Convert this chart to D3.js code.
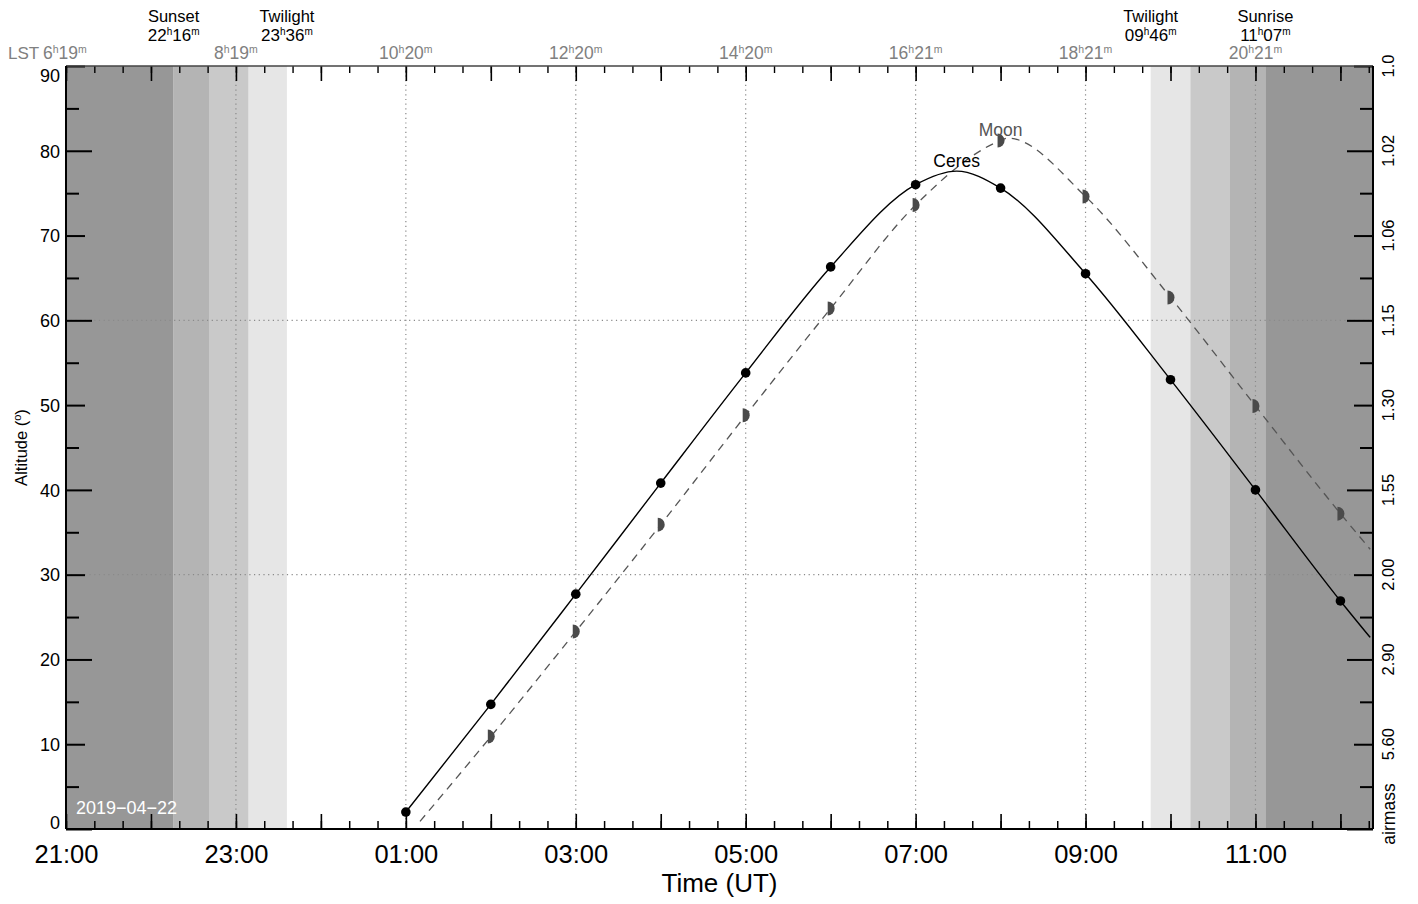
<!DOCTYPE html>
<html>
<head>
<meta charset="utf-8">
<script src="https://cdn.jsdelivr.net/npm/d3@7"></script>
<style>
  html, body { margin: 0; padding: 0; background: #fff; }
  svg { display: block; font-family: "Liberation Sans", Arial, Helvetica, sans-serif; }
</style>
</head>
<body>
<svg id="chart" width="1418" height="904"></svg>
<script>
// ---------------- data ----------------
const dateLabel = "2019\u221204\u221222";
const xDomainTimes = ["21:00", "12:23"];
const labelTimes = ["21:00", "23:00", "01:00", "03:00", "05:00", "07:00", "09:00", "11:00"];
const lstLabels = ["6h19m", "8h19m", "10h20m", "12h20m", "14h20m", "16h21m", "18h21m", "20h21m"];
const gridTimes = ["23:00", "01:00", "03:00", "05:00", "07:00", "09:00", "11:00"];
const gridAltitudes = [30, 60];

const altTicks = [0, 5, 10, 15, 20, 25, 30, 35, 40, 45, 50, 55, 60, 65, 70, 75, 80, 85, 90];
const altLabels = [0, 10, 20, 30, 40, 50, 60, 70, 80, 90];
const airmassAlts = [90, 80, 70, 60, 50, 40, 30, 20, 10];
const airmassLabels = ["1.0", "1.02", "1.06", "1.15", "1.30", "1.55", "2.00", "2.90", "5.60"];

// twilight bands (start, end, shade level 0=darkest..3=lightest)
const bandStarts = ["21:00", "22:16", "22:41", "23:09", "09:46", "10:14", "10:42", "11:07"];
const bandEnds   = ["22:16", "22:41", "23:09", "23:36", "10:14", "10:42", "11:07", "12:23"];
const bandLevels = [0, 1, 2, 3, 3, 2, 1, 0];

const eventNames = ["Sunset", "Twilight", "Twilight", "Sunrise"];
const eventTimes = ["22:16", "23:36", "09:46", "11:07"];

// Ceres hourly markers
const ceresTimes = ["01:00", "02:00", "03:00", "04:00", "05:00", "06:00", "07:00", "08:00", "09:00", "10:00", "11:00", "12:00"];
const ceresAlt   = [2.0, 14.7, 27.7, 40.8, 53.8, 66.3, 76.0, 75.6, 65.5, 53.0, 40.0, 26.9];
// Ceres track
const ceresTrackTimes = ["01:00", "02:00", "03:00", "04:00", "05:00", "06:00", "07:00", "07:29", "08:00", "09:00", "10:00", "11:00", "12:00", "12:21"];
const ceresTrackAlt   = [2.0, 14.7, 27.7, 40.8, 53.8, 66.3, 76.0, 77.6, 75.6, 65.5, 53.0, 40.0, 26.9, 22.6];

// Moon hourly markers
const moonTimes = ["02:00", "03:00", "04:00", "05:00", "06:00", "07:00", "08:00", "09:00", "10:00", "11:00", "12:00"];
const moonAlt   = [10.9, 23.3, 35.9, 48.8, 61.4, 73.6, 81.2, 74.6, 62.7, 49.9, 37.2];
// Moon track
const moonTrackTimes = ["01:10", "02:00", "03:00", "04:00", "05:00", "06:00", "07:00", "08:00", "08:05", "09:00", "10:00", "11:00", "12:00", "12:21"];
const moonTrackAlt   = [0.9, 10.9, 23.3, 35.9, 48.8, 61.4, 73.6, 81.2, 81.5, 74.6, 62.7, 49.9, 37.2, 33.0];
const ceresPeakIndex = 7;
const moonPeakIndex = 8;

// ---------------- styles ----------------
const bandColors = ["#979797", "#b4b4b4", "#c9c9c9", "#e6e6e6"];
const FONT = '"Liberation Sans", Arial, Helvetica, sans-serif';

// ---------------- helpers ----------------
function t(s) {
  const [h, m] = s.split(":").map(Number);
  const day = h >= 18 ? 22 : 23;
  return new Date(Date.UTC(2019, 3, day, h, m));
}

const W = 1418, H = 904;
const L = 66, R = 1373, T = 66, B = 829;

const svg = d3.select("#chart");
svg.append("rect").attr("width", W).attr("height", H).attr("fill", "#fff");

const x = d3.scaleUtc().domain(xDomainTimes.map(t)).range([L, R]);
const y = d3.scaleLinear().domain([0, 90]).range([B, T]);

// bands
svg.append("g").selectAll("rect")
  .data(bandStarts.map((s, i) => ({ s: t(s), e: t(bandEnds[i]), lvl: bandLevels[i] })))
  .join("rect")
  .attr("x", d => x(d.s))
  .attr("width", d => x(d.e) - x(d.s))
  .attr("y", T).attr("height", B - T)
  .attr("fill", d => bandColors[d.lvl]);

// grid
const grid = svg.append("g").attr("stroke", "#8a8a8a").attr("stroke-width", 1.2).attr("stroke-dasharray", "1.2,3.5");
grid.selectAll("line.v").data(gridTimes.map(t)).join("line")
  .attr("x1", d => x(d)).attr("x2", d => x(d)).attr("y1", T).attr("y2", B);
grid.selectAll("line.h").data(gridAltitudes).join("line")
  .attr("x1", L).attr("x2", R).attr("y1", d => y(d)).attr("y2", d => y(d));

// axes ticks (inward)
function styleAxis(g, w) {
  g.select(".domain").remove();
  g.selectAll(".tick line").attr("stroke", "#000").attr("stroke-width", w || 1.6);
  g.selectAll(".tick text").remove();
}
const minorX = d3.utcMinute.every(20);
const hourX = d3.utcHour.every(1);
svg.append("g").attr("transform", `translate(0,${B})`)
  .call(d3.axisBottom(x).ticks(minorX).tickSize(-8)).call(g => styleAxis(g, 1.5));
svg.append("g").attr("transform", `translate(0,${B})`)
  .call(d3.axisBottom(x).ticks(hourX).tickSize(-15)).call(g => styleAxis(g, 1.6));
svg.append("g").attr("transform", `translate(0,${T})`)
  .call(d3.axisTop(x).ticks(minorX).tickSize(-7)).call(g => styleAxis(g, 1.4));
svg.append("g").attr("transform", `translate(0,${T})`)
  .call(d3.axisTop(x).ticks(hourX).tickSize(-15)).call(g => styleAxis(g, 1.6));

function altTickLen(v) { return v % 20 === 0 ? 26 : (v % 10 === 0 ? 19 : 13); }
altTicks.forEach(v => {
  svg.append("g").attr("transform", `translate(${L},0)`)
    .call(d3.axisLeft(y).tickValues([v]).tickSize(-altTickLen(v))).call(g => styleAxis(g, 2));
  svg.append("g").attr("transform", `translate(${R},0)`)
    .call(d3.axisRight(y).tickValues([v]).tickSize(-altTickLen(v))).call(g => styleAxis(g, 2));
});

// bottom time labels
const bottomLab = svg.append("g").attr("transform", `translate(0,${B})`)
  .call(d3.axisBottom(x).tickValues(labelTimes.map(t)).tickSize(0).tickPadding(0).tickFormat(d3.utcFormat("%H:%M")));
bottomLab.select(".domain").remove();
bottomLab.selectAll(".tick text")
  .attr("dy", null).attr("y", 34)
  .attr("font-family", FONT).attr("font-size", 25.5).attr("fill", "#000");

// left altitude labels
const leftLab = svg.append("g").attr("transform", `translate(${L},0)`)
  .call(d3.axisLeft(y).tickValues(altLabels).tickSize(0).tickPadding(6));
leftLab.select(".domain").remove();
leftLab.selectAll(".tick text")
  .attr("font-family", FONT).attr("font-size", 18).attr("fill", "#000")
  .attr("dy", d => d === 90 ? "0.88em" : (d === 0 ? "-0.05em" : "0.35em"));

// right airmass labels (rotated)
svg.append("g").selectAll("text")
  .data(airmassAlts.map((a, i) => ({ a, lab: airmassLabels[i] })))
  .join("text")
  .attr("transform", d => `translate(1394,${y(d.a)}) rotate(-90)`)
  .attr("text-anchor", "middle")
  .attr("font-family", FONT).attr("font-size", 16.5).attr("fill", "#000")
  .text(d => d.lab);
svg.append("text")
  .attr("transform", `translate(1395,${y(0) - 15}) rotate(-90)`)
  .attr("text-anchor", "middle")
  .attr("font-family", FONT).attr("font-size", 17.5).attr("fill", "#000")
  .text("airmass");

// axis titles
svg.append("text")
  .attr("x", (L + R) / 2).attr("y", 892)
  .attr("text-anchor", "middle")
  .attr("font-family", FONT).attr("font-size", 26).attr("fill", "#000")
  .text("Time (UT)");
const altTitle = svg.append("text")
  .attr("transform", `translate(27,${(T + B) / 2}) rotate(-90)`)
  .attr("text-anchor", "middle")
  .attr("font-family", FONT).attr("font-size", 16.5).attr("fill", "#000");
altTitle.append("tspan").text("Altitude (");
altTitle.append("tspan").attr("font-size", 11).attr("dy", -6).text("o");
altTitle.append("tspan").attr("dy", 6).text(")");

// frame
svg.append("line").attr("x1", L).attr("x2", R).attr("y1", T).attr("y2", T).attr("stroke", "#444").attr("stroke-width", 1.6);
svg.append("line").attr("x1", L).attr("x2", R).attr("y1", B).attr("y2", B).attr("stroke", "#000").attr("stroke-width", 2);
svg.append("line").attr("x1", L).attr("x2", L).attr("y1", T).attr("y2", B).attr("stroke", "#000").attr("stroke-width", 2);
svg.append("line").attr("x1", R).attr("x2", R).attr("y1", T).attr("y2", B).attr("stroke", "#000").attr("stroke-width", 2);

// superscript helper: "8h19m" -> 8 ^h 19 ^m
function hmText(sel, str, main, sup) {
  const m = str.match(/^(\d+)h(\d+)m$/);
  sel.append("tspan").attr("font-size", main).text(m[1]);
  sel.append("tspan").attr("font-size", sup).attr("dy", -6).text("h");
  sel.append("tspan").attr("font-size", main).attr("dy", 6).text(m[2]);
  sel.append("tspan").attr("font-size", sup).attr("dy", -6).text("m");
}

// LST labels
svg.append("text").attr("x", 8).attr("y", 59)
  .attr("font-family", FONT).attr("font-size", 17).attr("fill", "#808080").text("LST");
labelTimes.forEach((s, i) => {
  const tx = svg.append("text")
    .attr("x", i === 0 ? 43 : x(t(s)))
    .attr("y", 59)
    .attr("text-anchor", i === 0 ? "start" : "middle")
    .attr("font-family", FONT).attr("fill", "#808080");
  hmText(tx, lstLabels[i], 17.5, 10.5);
});

// event labels
eventNames.forEach((n, i) => {
  const cx = x(t(eventTimes[i]));
  svg.append("text").attr("x", cx).attr("y", 22).attr("text-anchor", "middle")
    .attr("font-family", FONT).attr("font-size", 16.5).attr("fill", "#000")
    .attr("textLength", null).text(n);
  const [hh, mm] = eventTimes[i].split(":");
  const tx = svg.append("text").attr("x", cx).attr("y", 40.5).attr("text-anchor", "middle")
    .attr("font-family", FONT).attr("fill", "#000");
  hmText(tx, `${hh}h${mm}m`, 17, 10);
});

// date label
svg.append("text").attr("x", 76).attr("y", y(0) - 15)
  .attr("font-family", FONT).attr("font-size", 18).attr("fill", "#fff").text(dateLabel);

// curves
const line = d3.line().x(d => x(d.t)).y(d => y(d.a)).curve(d3.curveMonotoneX);
const ceresTrack = ceresTrackTimes.map((s, i) => ({ t: t(s), a: ceresTrackAlt[i] }));
const moonTrack = moonTrackTimes.map((s, i) => ({ t: t(s), a: moonTrackAlt[i] }));

svg.append("clipPath").attr("id", "clip").append("rect")
  .attr("x", L).attr("y", T).attr("width", R - L).attr("height", B - T);

svg.append("path").datum(moonTrack).attr("d", line)
  .attr("fill", "none").attr("stroke", "#555").attr("stroke-width", 1.3)
  .attr("stroke-dasharray", "8,6").attr("clip-path", "url(#clip)");
svg.append("path").datum(ceresTrack).attr("d", line)
  .attr("fill", "none").attr("stroke", "#000").attr("stroke-width", 1.4)
  .attr("clip-path", "url(#clip)");

// markers
const halfMoon = d3.arc().innerRadius(0).outerRadius(7).startAngle(0).endAngle(Math.PI);
svg.append("g").selectAll("path")
  .data(moonTimes.map((s, i) => ({ t: t(s), a: moonAlt[i] })))
  .join("path")
  .attr("transform", d => `translate(${x(d.t) - 3},${y(d.a)})`)
  .attr("d", halfMoon)
  .attr("fill", "#4a4a4a");
svg.append("g").selectAll("circle")
  .data(ceresTimes.map((s, i) => ({ t: t(s), a: ceresAlt[i] })))
  .join("circle")
  .attr("cx", d => x(d.t)).attr("cy", d => y(d.a)).attr("r", 4.8)
  .attr("fill", "#000");

// curve labels
const cp = ceresTrack[ceresPeakIndex], mp = moonTrack[moonPeakIndex];
svg.append("text").attr("x", x(cp.t)).attr("y", y(cp.a) - 4).attr("text-anchor", "middle")
  .attr("font-family", FONT).attr("font-size", 17.5).attr("fill", "#000").text("Ceres");
svg.append("text").attr("x", x(moonTrack[moonPeakIndex - 1].t)).attr("y", y(mp.a) - 2).attr("text-anchor", "middle")
  .attr("font-family", FONT).attr("font-size", 17.5).attr("fill", "#555").text("Moon");
</script>
</body>
</html>
